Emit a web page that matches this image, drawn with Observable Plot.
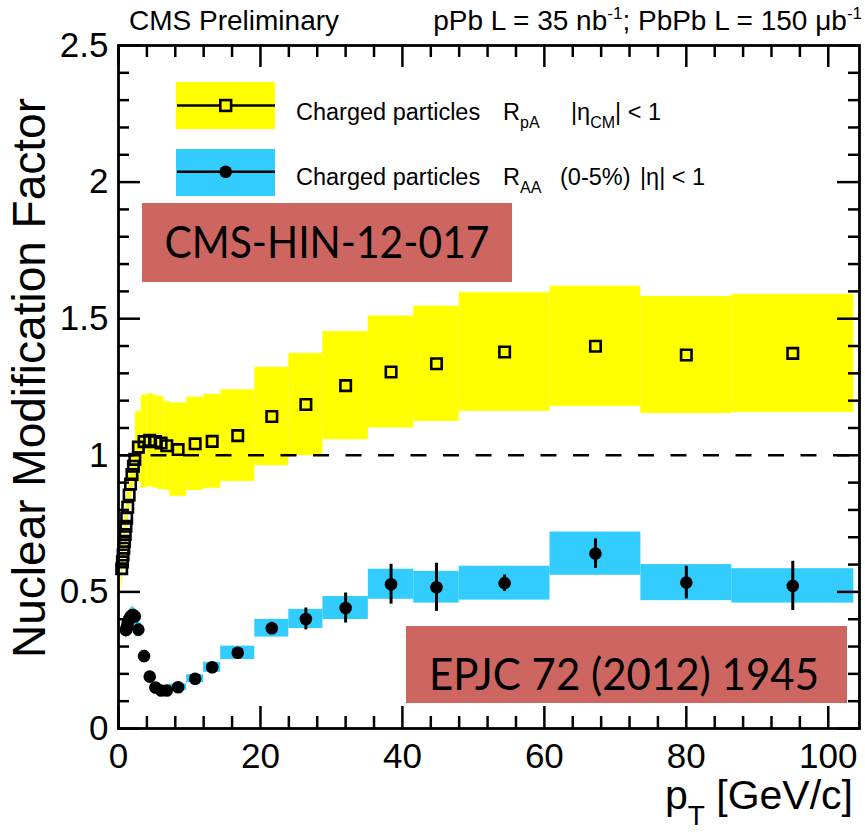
<!DOCTYPE html>
<html><head><meta charset="utf-8">
<script src="https://cdn.jsdelivr.net/npm/d3@7"></script>
<script src="https://cdn.jsdelivr.net/npm/@observablehq/plot@0.6"></script>
<style>body{margin:0;background:#fff} svg{display:block}</style>
</head><body><div id="chart"></div>
<script>
// pT bin edges [GeV/c]
const binEdges = [0.4,0.5,0.6,0.7,0.8,0.9,1.0,1.1,1.2,1.4,1.6,1.8,2.0,2.2,2.4,3.2,4.0,4.8,5.6,6.4,7.2,9.6,12.0,14.4,19.2,24.0,28.8,35.2,41.6,48.0,60.8,73.6,86.4,103.6];
// R_pA (pPb), one value per bin
const rpaPt  = [0.45,0.55,0.65,0.75,0.85,0.95,1.05,1.15,1.3,1.5,1.7,1.9,2.1,2.3,2.8,3.6,4.4,5.2,6.0,6.8,8.4,10.8,13.2,16.8,21.6,26.4,32.0,38.4,44.8,54.4,67.2,80.0,95.0];
const rpaVal = [0.585,0.61,0.635,0.66,0.685,0.71,0.74,0.77,0.81,0.855,0.895,0.93,0.96,0.985,1.03,1.05,1.055,1.05,1.045,1.035,1.021,1.042,1.051,1.072,1.142,1.186,1.255,1.305,1.335,1.378,1.399,1.367,1.373];
const rpaSys = [0.07,0.07,0.07,0.07,0.07,0.07,0.07,0.07,0.07,0.07,0.07,0.07,0.07,0.07,0.13,0.17,0.17,0.17,0.17,0.162,0.171,0.171,0.172,0.168,0.18,0.187,0.198,0.205,0.211,0.217,0.22,0.214,0.216];
// R_AA (PbPb 0-5%), bins starting at 1.0 GeV/c
const raaPt   = [1.05,1.15,1.3,1.5,1.7,1.9,2.1,2.3,2.8,3.6,4.4,5.2,6.0,6.8,8.4,10.8,13.2,16.8,21.6,26.4,32.0,38.4,44.8,54.4,67.2,80.0,95.0];
const raaVal  = [0.36,0.37,0.385,0.40,0.41,0.415,0.415,0.41,0.362,0.265,0.19,0.15,0.139,0.139,0.151,0.182,0.224,0.277,0.367,0.401,0.441,0.528,0.517,0.532,0.640,0.534,0.522];
const raaStat = [0,0,0,0,0,0,0,0,0,0,0,0,0,0,0,0,0,0,0.022,0.04,0.055,0.073,0.088,0.03,0.054,0.06,0.09];
const raaSys  = [0.03,0.03,0.03,0.03,0.03,0.03,0.03,0.03,0.026,0.02,0.015,0.012,0.012,0.012,0.012,0.0145,0.0185,0.0245,0.0325,0.035,0.042,0.055,0.058,0.062,0.079,0.066,0.063];
// axis ticks
const xMajor = [0,20,40,60,80,100];
const xMinor = d3.range(4,104,4).filter(v => v % 20 !== 0);
const yMajor = [0,0.5,1,1.5,2,2.5];
const yMinor = d3.range(1,25).map(v => v/10).filter(v => Math.round(v*10) % 5 !== 0);

const rpa = rpaPt.map((pt,i) => ({pt, r: rpaVal[i], sys: rpaSys[i], x1: binEdges[i], x2: binEdges[i+1]}));
const raaOffset = binEdges.indexOf(1.0);
const raa = raaPt.map((pt,i) => ({pt, r: raaVal[i], stat: raaStat[i], sys: raaSys[i], x1: binEdges[i+raaOffset], x2: binEdges[i+raaOffset+1]}));

const W = 865, H = 835, mL = 118, mR = 6, mT = 45, mB = 107;
const pw = W - mL - mR, ph = H - mT - mB;
const font = "Liberation Sans, Arial, Helvetica, sans-serif";

const chart = Plot.plot({
  width: W, height: H,
  marginLeft: mL, marginRight: mR, marginTop: mT, marginBottom: mB,
  style: {fontFamily: font, background: "#fff"},
  x: {domain: [0, 104.4], label: null},
  y: {domain: [0, 2.5], label: null},
  marks: [
    Plot.rect(rpa, {x1: "x1", x2: "x2", y1: d => d.r - d.sys, y2: d => d.r + d.sys, fill: "#ffff00"}),
    Plot.rect(raa, {x1: "x1", x2: "x2", y1: d => d.r - d.sys, y2: d => d.r + d.sys, fill: "#33ccff"}),
    Plot.ruleY([1], {stroke: "black", strokeWidth: 2.5, strokeDasharray: "16,16.5"}),
    Plot.ruleX(raa.filter(d => d.stat > 0), {x: "pt", y1: d => d.r - d.stat, y2: d => d.r + d.stat, stroke: "black", strokeWidth: 3}),
    Plot.dot(raa, {x: "pt", y: "r", r: 6.3, fill: "black", stroke: "none"}),
    Plot.dot(rpa, {x: "pt", y: "r", symbol: "square", r: 5.9, fill: "none", stroke: "black", strokeWidth: 2.6}),
    // ticks (inward, ROOT style)
    Plot.tickX(xMajor, {x: d => d, insetTop: ph - 22, stroke: "black", strokeWidth: 2.5}),
    Plot.tickX(xMajor, {x: d => d, insetBottom: ph - 22, stroke: "black", strokeWidth: 2.5}),
    Plot.tickX(xMinor, {x: d => d, insetTop: ph - 12, stroke: "black", strokeWidth: 2.5}),
    Plot.tickX(xMinor, {x: d => d, insetBottom: ph - 12, stroke: "black", strokeWidth: 2.5}),
    Plot.tickY(yMajor, {y: d => d, insetRight: pw - 22, stroke: "black", strokeWidth: 2.5}),
    Plot.tickY(yMajor, {y: d => d, insetLeft: pw - 22, stroke: "black", strokeWidth: 2.5}),
    Plot.tickY(yMinor, {y: d => d, insetRight: pw - 11, stroke: "black", strokeWidth: 2.5}),
    Plot.tickY(yMinor, {y: d => d, insetLeft: pw - 11, stroke: "black", strokeWidth: 2.5}),
    Plot.frame({stroke: "black", strokeWidth: 2.8}),
    Plot.axisX(xMajor, {tickSize: 0, tickPadding: 15, fontSize: 35, fontFamily: font, fill: "black", label: null, tickFormat: d => String(d)}),
    Plot.axisY(yMajor, {tickSize: 0, tickPadding: 10, fontSize: 35, fontFamily: font, fill: "black", label: null, tickFormat: d => String(d)})
  ]
});
document.getElementById("chart").append(chart);

const svg = d3.select(chart);
const g = svg.append("g").attr("font-family", font).attr("fill", "black").attr("text-anchor", "start");

// header
g.append("text").attr("x", 129).attr("y", 30).attr("font-size", 28).text("CMS Preliminary");
const hdr = g.append("text").attr("x", 862).attr("y", 30).attr("font-size", 28).attr("text-anchor", "end");
hdr.append("tspan").text("pPb L = 35 nb");
hdr.append("tspan").attr("dy", -11).attr("font-size", 17).text("-1");
hdr.append("tspan").attr("dy", 11).text("; PbPb L = 150 \u03bcb");
hdr.append("tspan").attr("dy", -11).attr("font-size", 17).text("-1");

// axis titles
g.append("text").attr("transform", "translate(45,378) rotate(-90)").attr("text-anchor", "middle")
  .attr("font-size", 46).text("Nuclear Modification Factor");
const xt = g.append("text").attr("x", 853).attr("y", 809).attr("font-size", 41).attr("text-anchor", "end");
xt.append("tspan").text("p");
xt.append("tspan").attr("dy", 16).attr("font-size", 28).text("T");
xt.append("tspan").attr("dy", -16).text(" [GeV/c]");

// legend
const lg = svg.append("g").attr("font-family", font).attr("text-anchor", "start");
lg.append("rect").attr("x", 176).attr("y", 82).attr("width", 99).attr("height", 47).attr("fill", "#ffff00");
lg.append("rect").attr("x", 176).attr("y", 149).attr("width", 99).attr("height", 47).attr("fill", "#33ccff");
lg.append("line").attr("x1", 177).attr("x2", 275).attr("y1", 105.5).attr("y2", 105.5).attr("stroke", "black").attr("stroke-width", 2.5);
lg.append("line").attr("x1", 177).attr("x2", 275).attr("y1", 171.7).attr("y2", 171.7).attr("stroke", "black").attr("stroke-width", 2.5);
lg.append("rect").attr("x", 220.3).attr("y", 100.1).attr("width", 10.8).attr("height", 10.8).attr("fill", "#ffff00").attr("stroke", "black").attr("stroke-width", 2.6);
lg.append("circle").attr("cx", 225.7).attr("cy", 171.7).attr("r", 6.3).attr("fill", "black");

const l1 = lg.append("text").attr("y", 120).attr("font-size", 23.5).attr("fill", "black");
l1.append("tspan").attr("x", 296).text("Charged particles");
l1.append("tspan").attr("x", 503).text("R");
l1.append("tspan").attr("dy", 8).attr("font-size", 16).text("pA");
l1.append("tspan").attr("x", 571).attr("dy", -8).text("|\u03b7");
l1.append("tspan").attr("dy", 8).attr("font-size", 16).text("CM");
l1.append("tspan").attr("dy", -8).text("| < 1");

const l2 = lg.append("text").attr("y", 185).attr("font-size", 23.5).attr("fill", "black");
l2.append("tspan").attr("x", 296).text("Charged particles");
l2.append("tspan").attr("x", 503).text("R");
l2.append("tspan").attr("dy", 8).attr("font-size", 16).text("AA");
l2.append("tspan").attr("x", 560).attr("dy", -8).text("(0-5%)");
l2.append("tspan").attr("x", 640).text("|\u03b7| < 1");

// reference boxes
const boxFill = "#cd6661";
const bx = svg.append("g").attr("font-family", "Lato, 'Open Sans', sans-serif").attr("text-anchor", "middle");
bx.append("rect").attr("x", 142).attr("y", 203).attr("width", 370).attr("height", 79).attr("fill", boxFill);
bx.append("text").attr("x", 327).attr("y", 258).attr("font-size", 44)
  .attr("textLength", 325).attr("lengthAdjust", "spacingAndGlyphs").attr("fill", "black").text("CMS-HIN-12-017");
bx.append("rect").attr("x", 406).attr("y", 626).attr("width", 441).attr("height", 77).attr("fill", boxFill);
bx.append("text").attr("x", 624).attr("y", 690).attr("font-size", 44)
  .attr("textLength", 390).attr("lengthAdjust", "spacingAndGlyphs").attr("fill", "black").text("EPJC 72 (2012) 1945");
</script>
</body></html>
